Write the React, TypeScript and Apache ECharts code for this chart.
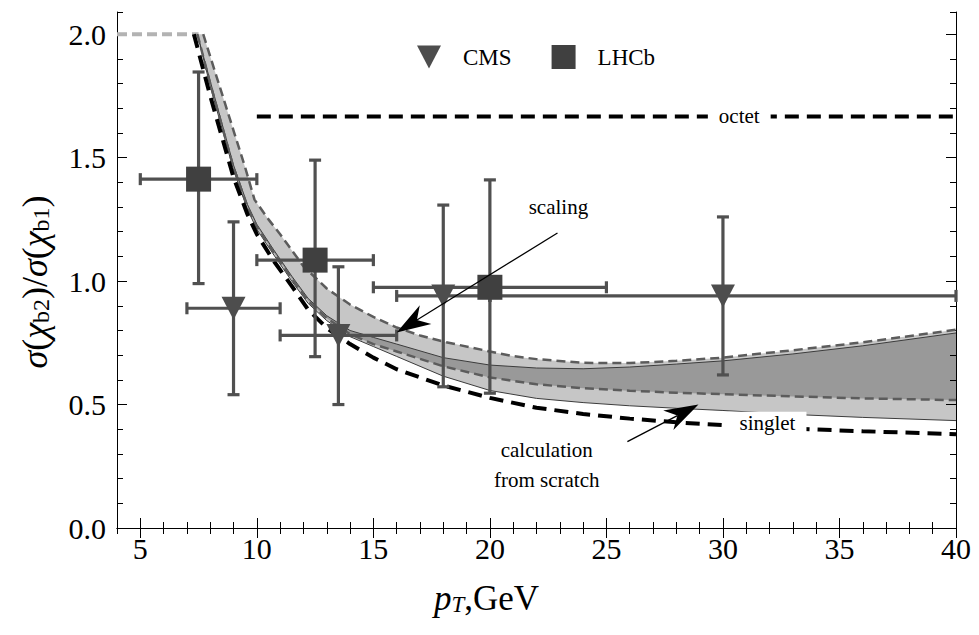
import React, { useEffect, useRef } from "react";
import * as echarts from "echarts";

// ---- tick labels ----
const xTickValues = [5, 10, 15, 20, 25, 30, 35, 40];
const yTickValues = [0, 0.5, 1.0, 1.5, 2.0];

// ---- CMS data ----
const cmsPt = [9, 13.5, 18, 30];
const cmsRatio = [0.89, 0.78, 0.94, 0.94];
const cmsPtLo = [7, 11, 16, 20];
const cmsPtHi = [11, 16, 20, 40];
const cmsRatioLo = [0.54, 0.5, 0.572, 0.62];
const cmsRatioHi = [1.24, 1.058, 1.308, 1.26];

// ---- LHCb data ----
const lhcbPt = [7.5, 12.5, 20];
const lhcbRatio = [1.413, 1.085, 0.975];
const lhcbPtLo = [5, 10, 15];
const lhcbPtHi = [10, 15, 25];
const lhcbRatioLo = [0.99, 0.694, 0.546];
const lhcbRatioHi = [1.847, 1.49, 1.41];

// ---- theory curves [pT, ratio] ----
const flatTop = [[4, 2.0], [7.5, 2.0]];
const octetCurve = [[10, 1.667], [40, 1.667]];
const singletCurve = [
  [7.3, 2.0], [8, 1.75], [9, 1.42], [9.6, 1.27], [10, 1.19], [10.7, 1.085], [11.5, 0.98],
  [12.2, 0.885], [13, 0.81], [14, 0.745], [15, 0.69], [16, 0.643], [18, 0.577], [20, 0.527],
  [22, 0.487], [24, 0.462], [26, 0.443], [28, 0.428], [30, 0.417], [33, 0.402], [36, 0.392], [40, 0.38],
];
const scalingHi = [
  [7.7, 2.0], [8.5, 1.76], [9, 1.61], [9.5, 1.46], [9.9, 1.33], [10.5, 1.25], [11, 1.19],
  [12, 1.06], [13, 0.97], [14, 0.905], [15, 0.855], [16, 0.812], [17, 0.78], [18, 0.755],
  [20, 0.715], [21, 0.696], [22, 0.684], [24, 0.669], [26, 0.668], [28, 0.677], [30, 0.69],
  [33, 0.72], [36, 0.752], [40, 0.803],
];
const scalingLo = [
  [7.45, 2.0], [8, 1.8], [9, 1.46], [9.6, 1.3], [10, 1.22], [10.7, 1.12], [11.5, 1.01],
  [12.2, 0.92], [13, 0.85], [14, 0.785], [15, 0.745], [16, 0.715], [18, 0.655], [20, 0.61],
  [22, 0.582], [24, 0.566], [26, 0.556], [28, 0.548], [30, 0.542], [33, 0.533], [36, 0.525], [40, 0.518],
];
const calcHi = [
  [7.45, 2.0], [8, 1.81], [9, 1.47], [9.6, 1.31], [10, 1.23], [10.7, 1.13], [11.5, 1.02],
  [12.2, 0.93], [13, 0.86], [14, 0.8], [15, 0.772], [16, 0.745], [18, 0.69], [20, 0.66],
  [22, 0.648], [24, 0.645], [26, 0.652], [28, 0.664], [30, 0.677], [33, 0.705], [36, 0.738], [40, 0.79],
];
const calcLo = [
  [7.45, 2.0], [8, 1.79], [9, 1.45], [9.6, 1.29], [10, 1.21], [10.7, 1.11], [11.5, 1.0],
  [12.2, 0.91], [13, 0.84], [14, 0.775], [15, 0.735], [16, 0.695], [18, 0.615], [20, 0.557],
  [22, 0.525], [24, 0.508], [26, 0.495], [28, 0.485], [30, 0.476], [33, 0.46], [36, 0.448], [40, 0.435],
];

// ---- annotations (data coordinates) ----
const labelTexts = ["scaling", "calculation", "from scratch", "singlet", "octet"];
const labelX = [22.94, 22.44, 22.44, 31.91, 30.7];
const labelY = [1.3, 0.316, 0.194, 0.424, 1.667];
const labelBoxed = [false, false, false, true, true];
const arrowTail = [[22.9, 1.195], [25.9, 0.35]];
const arrowTip = [[16.0, 0.792], [28.95, 0.5]];

const SERIF = "'Liberation Serif', 'Times New Roman', serif";
const TICK_FONT = 30;
const TITLE_FONT = 35;

function errorData(xs: number[], ys: number[], xl: number[], xh: number[], yl: number[], yh: number[]) {
  return xs.map((x, i) => [x, ys[i], xl[i], xh[i], yl[i], yh[i]]);
}

function errorBarSeries(data: number[][]) {
  return {
    type: "custom",
    data,
    z: 3,
    silent: true,
    renderItem: (params: any, api: any) => {
      const x = api.value(0), y = api.value(1);
      const pL = api.coord([api.value(2), y]);
      const pR = api.coord([api.value(3), y]);
      const pB = api.coord([x, api.value(4)]);
      const pT = api.coord([x, api.value(5)]);
      const cap = 6;
      const style = { stroke: "#505050", lineWidth: 3.2 };
      const ln = (x1: number, y1: number, x2: number, y2: number) => ({
        type: "line", shape: { x1, y1, x2, y2 }, style,
      });
      return {
        type: "group",
        children: [
          ln(pL[0], pL[1], pR[0], pR[1]),
          ln(pL[0], pL[1] - cap, pL[0], pL[1] + cap),
          ln(pR[0], pR[1] - cap, pR[0], pR[1] + cap),
          ln(pB[0], pB[1], pT[0], pT[1]),
          ln(pB[0] - cap, pB[1], pB[0] + cap, pB[1]),
          ln(pT[0] - cap, pT[1], pT[0] + cap, pT[1]),
        ],
      };
    },
  };
}

function bandSeries(hi: number[][], lo: number[][], fill: string) {
  return {
    type: "custom",
    data: [hi[0]],
    z: 1,
    silent: true,
    renderItem: (params: any, api: any) => {
      const pts = hi.map((p) => api.coord(p)).concat(lo.slice().reverse().map((p) => api.coord(p)));
      return { type: "polygon", shape: { points: pts }, style: { fill } };
    },
  };
}

function lineSeries(data: number[][], color: string, width: number, type: any, z = 2) {
  return {
    type: "line",
    data,
    showSymbol: false,
    symbol: "none",
    silent: true,
    z,
    lineStyle: { color, width, type },
  };
}

function arrowParts(tail: number[], tip: number[], len: number, half: number) {
  const dx = tip[0] - tail[0], dy = tip[1] - tail[1];
  const L = Math.hypot(dx, dy);
  const ux = dx / L, uy = dy / L, nx = -uy, ny = ux;
  const bx = tip[0] - ux * len, by = tip[1] - uy * len;
  const notch = [tip[0] - ux * len * 0.7, tip[1] - uy * len * 0.7];
  return [
    { type: "line", shape: { x1: tail[0], y1: tail[1], x2: notch[0], y2: notch[1] }, style: { stroke: "#000", lineWidth: 1.3 } },
    {
      type: "polygon",
      shape: { points: [tip, [bx + nx * half, by + ny * half], notch, [bx - nx * half, by - ny * half]] },
      style: { fill: "#000" },
    },
  ];
}

const annotationSeries = {
  type: "custom",
  data: [[labelX[0], labelY[0]]],
  z: 6,
  silent: true,
  renderItem: (params: any, api: any) => {
    const children: any[] = [];
    labelTexts.forEach((t, i) => {
      const p = api.coord([labelX[i], labelY[i]]);
      children.push({
        type: "text",
        x: p[0],
        y: p[1],
        style: {
          text: t,
          fill: "#000",
          fontFamily: SERIF,
          fontSize: 21,
          align: "center",
          verticalAlign: "middle",
          backgroundColor: labelBoxed[i] ? "#fff" : undefined,
          padding: labelBoxed[i] ? [1, 11, 1, 11] : 0,
        },
      });
    });
    arrowTail.forEach((tl, i) => {
      const a = api.coord(tl);
      const b = api.coord(arrowTip[i]);
      children.push(...arrowParts(a, b, 34, 11));
    });
    return { type: "group", children };
  },
};

const baseAxisLine = { show: true, lineStyle: { color: "#000", width: 1 } };

function xAxisPair(position: string, withLabels: boolean) {
  return [
    {
      type: "value", position, min: 4, max: 40,
      axisLine: baseAxisLine,
      splitLine: { show: false },
      axisTick: { show: true, inside: true, length: 10, customValues: xTickValues, lineStyle: { color: "#000" } },
      axisLabel: withLabels
        ? { show: true, customValues: xTickValues, margin: 5, fontFamily: SERIF, fontSize: TICK_FONT, color: "#000" }
        : { show: false },
      ...(withLabels
        ? {
            name: "{i|p}{s|T}{n|,GeV}",
            nameLocation: "middle",
            nameGap: 46,
            nameTextStyle: {
              padding: [0, 100, 0, 0],
              rich: {
                i: { fontFamily: SERIF, fontStyle: "italic", fontSize: TITLE_FONT, color: "#000", verticalAlign: "bottom", lineHeight: 42 },
                s: { fontFamily: SERIF, fontStyle: "italic", fontSize: 23, color: "#000", verticalAlign: "bottom", lineHeight: 14 },
                n: { fontFamily: SERIF, fontSize: TITLE_FONT, color: "#000", verticalAlign: "bottom", lineHeight: 42 },
              },
            },
          }
        : {}),
    },
    {
      type: "value", position, min: 4, max: 40, interval: 1,
      axisLine: { show: false },
      splitLine: { show: false },
      axisTick: { show: true, inside: true, length: 6, lineStyle: { color: "#000" } },
      axisLabel: { show: false },
    },
  ];
}

function yAxisPair(position: string, withLabels: boolean) {
  return [
    {
      type: "value", position, min: 0, max: 2.09,
      axisLine: baseAxisLine,
      splitLine: { show: false },
      axisTick: { show: true, inside: true, length: 10, customValues: yTickValues, lineStyle: { color: "#000" } },
      axisLabel: withLabels
        ? {
            show: true, customValues: yTickValues, margin: 11, fontFamily: SERIF, fontSize: TICK_FONT, color: "#000",
            formatter: (v: number) => v.toFixed(1),
          }
        : { show: false },
      ...(withLabels
        ? {
            name: "{i|σ}{n|(}{i|χ}{s|b2}{n|)/}{i|σ}{n|(}{i|χ}{s|b1}{n|)}",
            nameLocation: "middle",
            nameGap: 64,
            nameRotate: 90,
            nameTextStyle: {
              padding: [0, 24, 0, 0],
              rich: {
                i: { fontFamily: SERIF, fontStyle: "italic", fontSize: TITLE_FONT + 1, color: "#000", verticalAlign: "bottom", lineHeight: 42 },
                s: { fontFamily: SERIF, fontSize: 24, color: "#000", verticalAlign: "bottom", lineHeight: 14 },
                n: { fontFamily: SERIF, fontSize: TITLE_FONT + 1, color: "#000", verticalAlign: "bottom", lineHeight: 42 },
              },
            },
          }
        : {}),
    },
    {
      type: "value", position, min: 0, max: 2.09, interval: 0.1,
      axisLine: { show: false },
      splitLine: { show: false },
      axisTick: { show: true, inside: true, length: 6, lineStyle: { color: "#000" } },
      axisLabel: { show: false },
    },
  ];
}

const DOWN_TRI = "path://M0,0L24,0L12,23Z";

export default function App() {
  const ref = useRef<HTMLDivElement>(null);
  useEffect(() => {
    document.body.style.margin = "0";
    const chart = echarts.init(ref.current!, undefined, { renderer: "svg" });
    const option: any = {
      animation: false,
      backgroundColor: "#fff",
      grid: { left: 117, right: 23, top: 12, bottom: 107 },
      legend: {
        left: 417,
        top: 45,
        padding: 0,
        itemWidth: 24,
        itemHeight: 24,
        itemGap: 40,
        selectedMode: false,
        textStyle: { fontFamily: SERIF, fontSize: 23, color: "#000", padding: [0, 0, 0, 17] },
        data: [
          { name: "CMS", icon: DOWN_TRI },
          { name: "LHCb", icon: "rect" },
        ],
      },
      xAxis: [...xAxisPair("bottom", true), ...xAxisPair("top", false)],
      yAxis: [...yAxisPair("left", true), ...yAxisPair("right", false)],
      series: [
        bandSeries(scalingHi, scalingLo, "rgba(0,0,0,0.225)"),
        bandSeries(calcHi, calcLo, "rgba(0,0,0,0.225)"),
        lineSeries(flatTop, "#b3b3b3", 4, [10, 5]),
        lineSeries(calcHi, "#3c3c3c", 1),
        lineSeries(calcLo, "#3c3c3c", 1),
        lineSeries(scalingHi, "#5c5c5c", 2.5, [9, 5]),
        lineSeries(scalingLo, "#5c5c5c", 2.5, [9, 5]),
        lineSeries(singletCurve, "#000", 4, [14, 8]),
        lineSeries(octetCurve, "#000", 4, [14, 8]),
        errorBarSeries(errorData(cmsPt, cmsRatio, cmsPtLo, cmsPtHi, cmsRatioLo, cmsRatioHi)),
        errorBarSeries(errorData(lhcbPt, lhcbRatio, lhcbPtLo, lhcbPtHi, lhcbRatioLo, lhcbRatioHi)),
        {
          name: "CMS",
          type: "scatter",
          z: 4,
          symbol: DOWN_TRI,
          symbolSize: [24, 23],
          itemStyle: { color: "#4d4d4d", opacity: 1 },
          data: cmsPt.map((x, i) => [x, cmsRatio[i]]),
        },
        {
          name: "LHCb",
          type: "scatter",
          z: 4,
          symbol: "rect",
          symbolSize: 25,
          itemStyle: { color: "#404040", opacity: 1 },
          data: lhcbPt.map((x, i) => [x, lhcbRatio[i]]),
        },
        annotationSeries,
      ],
    };
    chart.setOption(option);
    return () => chart.dispose();
  }, []);
  return <div ref={ref} style={{ width: 979, height: 635 }} />;
}
